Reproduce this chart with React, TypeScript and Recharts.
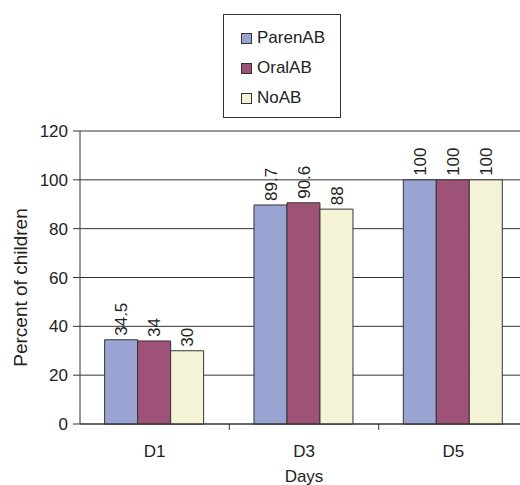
import React from "react";
import {
  BarChart,
  Bar,
  XAxis,
  YAxis,
  CartesianGrid,
  LabelList,
} from "recharts";

const days = ["D1", "D3", "D5"];
const parenAB = [34.5, 89.7, 100];
const oralAB = [34, 90.6, 100];
const noAB = [30, 88, 100];
const yTicks = [0, 20, 40, 60, 80, 100, 120];

const series = [
  { key: "ParenAB", values: parenAB, color: "#99A4D3" },
  { key: "OralAB", values: oralAB, color: "#9F5277" },
  { key: "NoAB", values: noAB, color: "#F4F3D5" },
];

const data = days.map((d, i) => ({
  day: d,
  ParenAB: parenAB[i],
  OralAB: oralAB[i],
  NoAB: noAB[i],
}));

const FONT = "'Liberation Sans', Arial, sans-serif";

// value label rotated to read bottom-to-top, sitting just above the bar
function VerticalLabel(props: any) {
  const { x = 0, y = 0, width = 0, value } = props;
  const cx = x + width / 2;
  const cy = y - 4;
  return (
    <text
      x={cx}
      y={cy}
      transform={`rotate(-90 ${cx} ${cy})`}
      textAnchor="start"
      dy="0.36em"
      fontSize={17}
      fontFamily={FONT}
      fill="#222"
    >
      {value}
    </text>
  );
}

// Excel-style category axis: label in the middle, tick mark between categories
function DayTick(props: any) {
  const { x = 0, y = 0, payload, index } = props;
  const half = 448 / days.length / 2;
  return (
    <g>
      <text x={x} y={y + 25} textAnchor="middle" fontSize={17} fontFamily={FONT} fill="#222">
        {payload.value}
      </text>
      {index < days.length - 1 && (
        <line x1={x + half} y1={y - 8} x2={x + half} y2={y - 2} stroke="#333" />
      )}
    </g>
  );
}

function YTitle(props: any) {
  const { viewBox } = props;
  const cx = viewBox.x + 20;
  const cy = viewBox.y + viewBox.height / 2 + 10;
  return (
    <text
      x={cx}
      y={cy}
      transform={`rotate(-90 ${cx} ${cy})`}
      textAnchor="middle"
      dy="0.36em"
      fontSize={19}
      fontFamily={FONT}
      fill="#222"
    >
      Percent of children
    </text>
  );
}

function LegendBox() {
  return (
    <div
      style={{
        position: "absolute",
        left: 223,
        top: 14,
        border: "1px solid #333",
        width: 118,
        height: 104,
        boxSizing: "border-box",
        padding: "8px 0 0 17px",
        fontFamily: FONT,
        fontSize: 17,
        color: "#222",
        background: "#fff",
      }}
    >
      {series.map((s) => (
        <div key={s.key} style={{ display: "flex", alignItems: "center", height: 30 }}>
          <span
            style={{
              width: 9,
              height: 9,
              background: s.color,
              border: "1px solid #333",
              marginRight: 5,
              display: "inline-block",
            }}
          />
          {s.key}
        </div>
      ))}
    </div>
  );
}

export default function App() {
  return (
    <div
      style={{
        position: "absolute",
        left: 0,
        top: 0,
        width: 520,
        height: 485,
        overflow: "hidden",
        background: "#fff",
      }}
    >
      <BarChart
        width={540}
        height={485}
        data={data}
        margin={{ top: 131, right: 12, left: 0, bottom: 0 }}
        barCategoryGap="16.5%"
        barGap={0}
      >
        <CartesianGrid vertical={false} stroke="#333" strokeOpacity={1} />
        <XAxis
          dataKey="day"
          height={61}
          tick={<DayTick />}
          tickLine={false}
          axisLine={{ stroke: "#333" }}
          interval={0}
          label={{
            value: "Days",
            position: "insideBottom",
            offset: 3,
            fontSize: 17,
            fontFamily: FONT,
            fill: "#222",
          }}
        />
        <YAxis
          width={80}
          domain={[0, 120]}
          ticks={yTicks}
          interval={0}
          tickSize={7}
          tickMargin={5}
          tick={{ fontSize: 17, fontFamily: FONT, fill: "#222" }}
          tickLine={{ stroke: "#333" }}
          axisLine={{ stroke: "#333" }}
          label={<YTitle />}
        />
        {series.map((s) => (
          <Bar
            key={s.key}
            dataKey={s.key}
            fill={s.color}
            stroke="#333"
            strokeWidth={1}
            isAnimationActive={false}
          >
            <LabelList dataKey={s.key} content={<VerticalLabel />} />
          </Bar>
        ))}
      </BarChart>
      <LegendBox />
    </div>
  );
}
